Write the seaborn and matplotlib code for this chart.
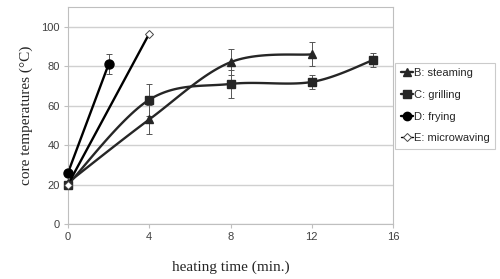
import numpy as np
import pandas as pd
import seaborn as sns
from matplotlib import pyplot as plt
from matplotlib.lines import Line2D

# data
b_time = [0, 4, 8, 12]
b_temp = [21, 53, 82, 86]
b_err = [0, 7.5, 6.5, 6]
c_time = [0, 4, 8, 12, 15]
c_temp = [20, 63, 71, 72, 83]
c_err = [0, 8, 7, 3.5, 3.5]
d_time = [0, 2]
d_temp = [26, 81]
d_err = [0, 5]
e_time = [0, 4]
e_temp = [20, 96.5]

x_ticks = [0, 4, 8, 12, 16]
y_ticks = [0, 20, 40, 60, 80, 100]


def smooth(xs, ys, n=30):
    # excel-like smoothed line (catmull-rom bezier)
    xs = np.asarray(xs, float)
    ys = np.asarray(ys, float)
    px, py = [], []
    for i in range(len(xs) - 1):
        i0, i3 = max(i - 1, 0), min(i + 2, len(xs) - 1)
        c1x = xs[i] + (xs[i + 1] - xs[i0]) / 6
        c1y = ys[i] + (ys[i + 1] - ys[i0]) / 6
        c2x = xs[i + 1] - (xs[i3] - xs[i]) / 6
        c2y = ys[i + 1] - (ys[i3] - ys[i]) / 6
        t = np.linspace(0, 1, n)
        px.extend((1 - t) ** 3 * xs[i] + 3 * (1 - t) ** 2 * t * c1x + 3 * (1 - t) * t ** 2 * c2x + t ** 3 * xs[i + 1])
        py.extend((1 - t) ** 3 * ys[i] + 3 * (1 - t) ** 2 * t * c1y + 3 * (1 - t) * t ** 2 * c2y + t ** 3 * ys[i + 1])
    return px, py


sns.set_style('white')
fig = plt.figure(figsize=(5, 2.79), dpi=100)
ax = fig.add_axes([0.136, 0.197, 0.65, 0.778])

grey = '#bfbfbf'
dark = '#262626'

for tt, vv, ee in [(b_time, b_temp, b_err), (c_time, c_temp, c_err), (d_time, d_temp, d_err)]:
    ax.errorbar(tt, vv, yerr=ee, fmt='none', ecolor='#555555', elinewidth=0.7, capsize=2.5, capthick=0.7)

sx, sy = smooth(b_time, b_temp)
ax.plot(sx, sy, color=dark, lw=1.7)
sx, sy = smooth(c_time, c_temp)
ax.plot(sx, sy, color=dark, lw=1.7)

df_d = pd.DataFrame({'t': d_time, 'v': d_temp})
df_e = pd.DataFrame({'t': e_time, 'v': e_temp})
sns.lineplot(x='t', y='v', data=df_d, ax=ax, color='black', lw=1.7)
sns.lineplot(x='t', y='v', data=df_e, ax=ax, color='black', lw=1.7)

ax.plot(b_time, b_temp, ls='none', marker='^', ms=6, color=dark, clip_on=False, zorder=5)
ax.plot(c_time, c_temp, ls='none', marker='s', ms=6, color=dark, clip_on=False, zorder=5)
ax.plot(d_time, d_temp, ls='none', marker='o', ms=6.5, color='black', clip_on=False, zorder=5)
ax.plot(e_time, e_temp, ls='none', marker='D', ms=4.5, mfc='white', mec='#444444', mew=0.7,
        clip_on=False, zorder=6)

ax.set_xlim(0, 16)
ax.set_ylim(0, 110)
ax.set_xticks(x_ticks)
ax.set_yticks(y_ticks)
ax.yaxis.grid(True, color='#d0d0d0', lw=1)
ax.set_axisbelow(True)
for s in ax.spines.values():
    s.set_color(grey)
    s.set_linewidth(0.8)
ax.tick_params(axis='both', length=3, color=grey, labelsize=8, labelcolor='#404040', direction='out', pad=3)
ax.tick_params(axis='both', which='both', bottom=True, left=True)
for lab in ax.get_xticklabels() + ax.get_yticklabels():
    lab.set_family('Liberation Sans')

ax.set_xlabel('heating time (min.)', family='Liberation Serif', fontsize=11, labelpad=13)
ax.set_ylabel('core temperatures (°C)', family='Liberation Serif', fontsize=11, labelpad=6)

handles = [
    Line2D([], [], color=dark, lw=1.7, marker='^', ms=6),
    Line2D([], [], color=dark, lw=1.7, marker='s', ms=6),
    Line2D([], [], color='black', lw=1.7, marker='o', ms=6),
    Line2D([], [], color='black', lw=1.0, marker='D', ms=4, mfc='white', mec='#444444', mew=0.7),
]
labels = ['B: steaming', 'C: grilling', 'D: frying', 'E: microwaving']
leg = fig.legend(handles, labels, loc='upper left', bbox_to_anchor=(0.79, 0.775), frameon=True,
                 fancybox=False, edgecolor=grey, prop={'family': 'Liberation Sans', 'size': 8},
                 handlelength=1.1, handletextpad=0.1, labelspacing=1.05, borderpad=0.5, borderaxespad=0)
leg.get_frame().set_linewidth(0.8)

plt.savefig('out.png', dpi=100)
